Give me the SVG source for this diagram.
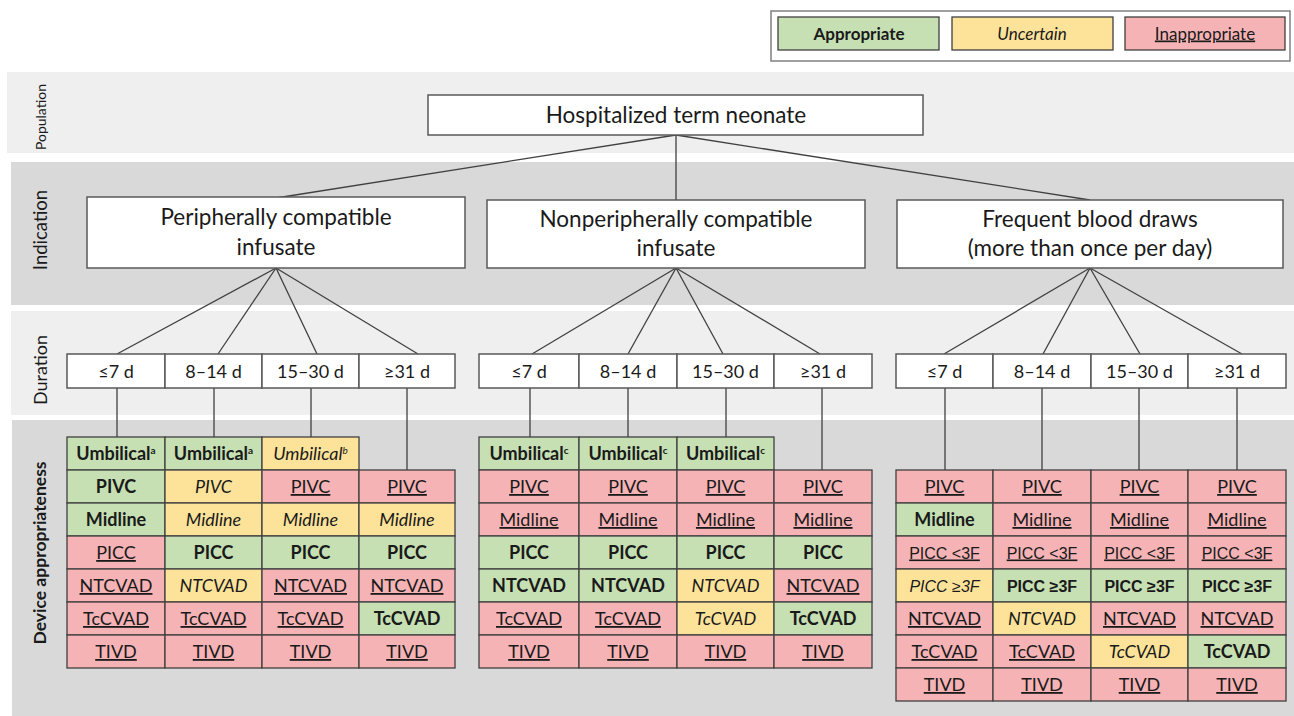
<svg xmlns="http://www.w3.org/2000/svg" width="1294" height="716" viewBox="0 0 1294 716">
<style>
text{font-family:Lato,"Open Sans","Liberation Sans",sans-serif;fill:#1a1a1a;text-anchor:middle}
.band1{fill:#efefef}
.band2{fill:#d9d9d9}
.box{fill:#fff;stroke:#595959;stroke-width:1.5}
.g{fill:#c6e0b4;stroke:#404040;stroke-width:1.3}
.y{fill:#fde39a;stroke:#404040;stroke-width:1.3}
.r{fill:#f5b3b5;stroke:#404040;stroke-width:1.3}
.c{font-size:18px}
.tg{font-weight:bold}
.ty{font-style:italic}
.tr{text-decoration:underline}
.ar{font-family:"Liberation Sans",Arial,sans-serif;font-size:16px}
.node{font-size:22.5px}
.dur{font-size:18px}
.lg{font-size:17px}
.conn line{stroke:#404040;stroke-width:1.3}
</style>
<rect width="1294" height="716" fill="#fff"/>
<!-- bands -->
<g id="bands">
<rect class="band1" x="7" y="72" width="1287" height="81"/>
<rect class="band2" x="11" y="162" width="1283" height="143"/>
<rect class="band1" x="11" y="311" width="1283" height="104"/>
<rect class="band2" x="12" y="420" width="1282" height="296"/>
<text x="0" y="0" font-size="14" transform="translate(46,117) rotate(-90)">Population</text>
<text x="0" y="0" font-size="18.5" transform="translate(47,230) rotate(-90)">Indication</text>
<text x="0" y="0" font-size="18" transform="translate(47,370) rotate(-90)">Duration</text>
<text x="0" y="0" font-size="17.5" font-weight="bold" transform="translate(46,553) rotate(-90)">Device appropriateness</text>
</g>
<!-- legend -->
<g id="legend">
<rect x="771" y="11" width="519" height="50" fill="#fff" stroke="#808080" stroke-width="1.5"/>
<rect class="g" x="778" y="17" width="161" height="33"/>
<rect class="y" x="952" y="17" width="161" height="33"/>
<rect class="r" x="1125" y="17" width="160" height="33"/>
<text class="lg tg" x="859" y="39.5">Appropriate</text>
<text class="lg ty" x="1032" y="39.5">Uncertain</text>
<text class="lg tr" x="1205" y="39.5">Inappropriate</text>
</g>
<!-- connectors -->
<g id="connectors" class="conn">
<line x1="676" y1="135" x2="276" y2="198"/>
<line x1="676" y1="135" x2="676" y2="200"/>
<line x1="676" y1="135" x2="1090" y2="200"/>
<line x1="276" y1="268" x2="117" y2="354"/>
<line x1="276" y1="268" x2="218" y2="354"/>
<line x1="276" y1="268" x2="317" y2="354"/>
<line x1="276" y1="268" x2="418" y2="354"/>
<line x1="676" y1="268" x2="532" y2="354"/>
<line x1="676" y1="268" x2="628" y2="354"/>
<line x1="676" y1="268" x2="723" y2="354"/>
<line x1="676" y1="268" x2="820" y2="354"/>
<line x1="1090" y1="268" x2="944" y2="354"/>
<line x1="1090" y1="268" x2="1043" y2="354"/>
<line x1="1090" y1="268" x2="1140" y2="354"/>
<line x1="1090" y1="268" x2="1242" y2="354"/>
<line x1="117" y1="388" x2="117" y2="437"/>
<line x1="214" y1="388" x2="214" y2="437"/>
<line x1="311" y1="388" x2="311" y2="437"/>
<line x1="407" y1="388" x2="407" y2="470"/>
<line x1="530" y1="388" x2="530" y2="437"/>
<line x1="628" y1="388" x2="628" y2="437"/>
<line x1="726" y1="388" x2="726" y2="437"/>
<line x1="822" y1="388" x2="822" y2="470"/>
<line x1="945" y1="388" x2="945" y2="470"/>
<line x1="1042" y1="388" x2="1042" y2="470"/>
<line x1="1139" y1="388" x2="1139" y2="470"/>
<line x1="1237" y1="388" x2="1237" y2="470"/>
</g>
<!-- nodes -->
<g id="node-population">
<rect class="box" x="428" y="95" width="495" height="40"/>
<text class="node" x="676" y="123">Hospitalized term neonate</text>
</g>
<g id="node-peripheral">
<rect class="box" x="87" y="197" width="378" height="71"/>
<text class="node" x="276" y="225">Peripherally compatible</text>
<text class="node" x="276" y="255">infusate</text>
</g>
<g id="node-nonperipheral">
<rect class="box" x="487" y="200" width="378" height="68"/>
<text class="node" x="676" y="227">Nonperipherally compatible</text>
<text class="node" x="676" y="256">infusate</text>
</g>
<g id="node-blood">
<rect class="box" x="897" y="200" width="386" height="68"/>
<text class="node" x="1090" y="227">Frequent blood draws</text>
<text class="node" x="1090" y="256">(more than once per day)</text>
</g>
<!-- duration rows -->
<g id="duration-1">
<rect class="box" x="67" y="354" width="98" height="34"/>
<rect class="box" x="165" y="354" width="97" height="34"/>
<rect class="box" x="262" y="354" width="97" height="34"/>
<rect class="box" x="359" y="354" width="96" height="34"/>
<text class="dur" x="116" y="377.5">≤7 d</text>
<text class="dur" x="213.5" y="377.5">8–14 d</text>
<text class="dur" x="310.5" y="377.5">15–30 d</text>
<text class="dur" x="407" y="377.5">≥31 d</text>
</g>
<g id="duration-2">
<rect class="box" x="479" y="354" width="100" height="34"/>
<rect class="box" x="579" y="354" width="98" height="34"/>
<rect class="box" x="677" y="354" width="97" height="34"/>
<rect class="box" x="774" y="354" width="98" height="34"/>
<text class="dur" x="529" y="377.5">≤7 d</text>
<text class="dur" x="628" y="377.5">8–14 d</text>
<text class="dur" x="725.5" y="377.5">15–30 d</text>
<text class="dur" x="823" y="377.5">≥31 d</text>
</g>
<g id="duration-3">
<rect class="box" x="896" y="354" width="97" height="34"/>
<rect class="box" x="993" y="354" width="98" height="34"/>
<rect class="box" x="1091" y="354" width="97" height="34"/>
<rect class="box" x="1188" y="354" width="98" height="34"/>
<text class="dur" x="944.5" y="377.5">≤7 d</text>
<text class="dur" x="1042" y="377.5">8–14 d</text>
<text class="dur" x="1139.5" y="377.5">15–30 d</text>
<text class="dur" x="1237" y="377.5">≥31 d</text>
</g>
<!-- table 1 -->
<g id="table-1">
<rect class="g" x="67" y="437" width="98" height="33"/><rect class="g" x="165" y="437" width="97" height="33"/><rect class="y" x="262" y="437" width="97" height="33"/>
<rect class="g" x="67" y="470" width="98" height="33"/><rect class="y" x="165" y="470" width="97" height="33"/><rect class="r" x="262" y="470" width="97" height="33"/><rect class="r" x="359" y="470" width="96" height="33"/>
<rect class="g" x="67" y="503" width="98" height="33"/><rect class="y" x="165" y="503" width="97" height="33"/><rect class="y" x="262" y="503" width="97" height="33"/><rect class="y" x="359" y="503" width="96" height="33"/>
<rect class="r" x="67" y="536" width="98" height="33"/><rect class="g" x="165" y="536" width="97" height="33"/><rect class="g" x="262" y="536" width="97" height="33"/><rect class="g" x="359" y="536" width="96" height="33"/>
<rect class="r" x="67" y="569" width="98" height="33"/><rect class="y" x="165" y="569" width="97" height="33"/><rect class="r" x="262" y="569" width="97" height="33"/><rect class="r" x="359" y="569" width="96" height="33"/>
<rect class="r" x="67" y="602" width="98" height="33"/><rect class="r" x="165" y="602" width="97" height="33"/><rect class="r" x="262" y="602" width="97" height="33"/><rect class="g" x="359" y="602" width="96" height="33"/>
<rect class="r" x="67" y="635" width="98" height="33"/><rect class="r" x="165" y="635" width="97" height="33"/><rect class="r" x="262" y="635" width="97" height="33"/><rect class="r" x="359" y="635" width="96" height="33"/>
<text class="c tg" x="116" y="460">Umbilical<tspan font-size="10" dy="-6">a</tspan></text>
<text class="c tg" x="213.5" y="460">Umbilical<tspan font-size="10" dy="-6">a</tspan></text>
<text class="c ty" x="310.5" y="460">Umbilical<tspan font-size="10" dy="-6">b</tspan></text>
<text class="c tg" x="116" y="493">PIVC</text><text class="c ty" x="213.5" y="493">PIVC</text><text class="c tr" x="310.5" y="493">PIVC</text><text class="c tr" x="407" y="493">PIVC</text>
<text class="c tg" x="116" y="526">Midline</text><text class="c ty" x="213.5" y="526">Midline</text><text class="c ty" x="310.5" y="526">Midline</text><text class="c ty" x="407" y="526">Midline</text>
<text class="c tr" x="116" y="559">PICC</text><text class="c tg" x="213.5" y="559">PICC</text><text class="c tg" x="310.5" y="559">PICC</text><text class="c tg" x="407" y="559">PICC</text>
<text class="c tr" x="116" y="592">NTCVAD</text><text class="c ty" x="213.5" y="592">NTCVAD</text><text class="c tr" x="310.5" y="592">NTCVAD</text><text class="c tr" x="407" y="592">NTCVAD</text>
<text class="c tr" x="116" y="625">TcCVAD</text><text class="c tr" x="213.5" y="625">TcCVAD</text><text class="c tr" x="310.5" y="625">TcCVAD</text><text class="c tg" x="407" y="625">TcCVAD</text>
<text class="c tr" x="116" y="658">TIVD</text><text class="c tr" x="213.5" y="658">TIVD</text><text class="c tr" x="310.5" y="658">TIVD</text><text class="c tr" x="407" y="658">TIVD</text>
</g>
<!-- table 2 -->
<g id="table-2">
<rect class="g" x="479" y="437" width="100" height="33"/><rect class="g" x="579" y="437" width="98" height="33"/><rect class="g" x="677" y="437" width="97" height="33"/>
<rect class="r" x="479" y="470" width="100" height="33"/><rect class="r" x="579" y="470" width="98" height="33"/><rect class="r" x="677" y="470" width="97" height="33"/><rect class="r" x="774" y="470" width="98" height="33"/>
<rect class="r" x="479" y="503" width="100" height="33"/><rect class="r" x="579" y="503" width="98" height="33"/><rect class="r" x="677" y="503" width="97" height="33"/><rect class="r" x="774" y="503" width="98" height="33"/>
<rect class="g" x="479" y="536" width="100" height="33"/><rect class="g" x="579" y="536" width="98" height="33"/><rect class="g" x="677" y="536" width="97" height="33"/><rect class="g" x="774" y="536" width="98" height="33"/>
<rect class="g" x="479" y="569" width="100" height="33"/><rect class="g" x="579" y="569" width="98" height="33"/><rect class="y" x="677" y="569" width="97" height="33"/><rect class="r" x="774" y="569" width="98" height="33"/>
<rect class="r" x="479" y="602" width="100" height="33"/><rect class="r" x="579" y="602" width="98" height="33"/><rect class="y" x="677" y="602" width="97" height="33"/><rect class="g" x="774" y="602" width="98" height="33"/>
<rect class="r" x="479" y="635" width="100" height="33"/><rect class="r" x="579" y="635" width="98" height="33"/><rect class="r" x="677" y="635" width="97" height="33"/><rect class="r" x="774" y="635" width="98" height="33"/>
<text class="c tg" x="529" y="460">Umbilical<tspan font-size="10" dy="-6">c</tspan></text>
<text class="c tg" x="628" y="460">Umbilical<tspan font-size="10" dy="-6">c</tspan></text>
<text class="c tg" x="725.5" y="460">Umbilical<tspan font-size="10" dy="-6">c</tspan></text>
<text class="c tr" x="529" y="493">PIVC</text><text class="c tr" x="628" y="493">PIVC</text><text class="c tr" x="725.5" y="493">PIVC</text><text class="c tr" x="823" y="493">PIVC</text>
<text class="c tr" x="529" y="526">Midline</text><text class="c tr" x="628" y="526">Midline</text><text class="c tr" x="725.5" y="526">Midline</text><text class="c tr" x="823" y="526">Midline</text>
<text class="c tg" x="529" y="559">PICC</text><text class="c tg" x="628" y="559">PICC</text><text class="c tg" x="725.5" y="559">PICC</text><text class="c tg" x="823" y="559">PICC</text>
<text class="c tg" x="529" y="592">NTCVAD</text><text class="c tg" x="628" y="592">NTCVAD</text><text class="c ty" x="725.5" y="592">NTCVAD</text><text class="c tr" x="823" y="592">NTCVAD</text>
<text class="c tr" x="529" y="625">TcCVAD</text><text class="c tr" x="628" y="625">TcCVAD</text><text class="c ty" x="725.5" y="625">TcCVAD</text><text class="c tg" x="823" y="625">TcCVAD</text>
<text class="c tr" x="529" y="658">TIVD</text><text class="c tr" x="628" y="658">TIVD</text><text class="c tr" x="725.5" y="658">TIVD</text><text class="c tr" x="823" y="658">TIVD</text>
</g>
<!-- table 3 -->
<g id="table-3">
<rect class="r" x="896" y="470" width="97" height="33"/><rect class="r" x="993" y="470" width="98" height="33"/><rect class="r" x="1091" y="470" width="97" height="33"/><rect class="r" x="1188" y="470" width="98" height="33"/>
<rect class="g" x="896" y="503" width="97" height="33"/><rect class="r" x="993" y="503" width="98" height="33"/><rect class="r" x="1091" y="503" width="97" height="33"/><rect class="r" x="1188" y="503" width="98" height="33"/>
<rect class="r" x="896" y="536" width="97" height="33"/><rect class="r" x="993" y="536" width="98" height="33"/><rect class="r" x="1091" y="536" width="97" height="33"/><rect class="r" x="1188" y="536" width="98" height="33"/>
<rect class="y" x="896" y="569" width="97" height="33"/><rect class="g" x="993" y="569" width="98" height="33"/><rect class="g" x="1091" y="569" width="97" height="33"/><rect class="g" x="1188" y="569" width="98" height="33"/>
<rect class="r" x="896" y="602" width="97" height="33"/><rect class="y" x="993" y="602" width="98" height="33"/><rect class="r" x="1091" y="602" width="97" height="33"/><rect class="r" x="1188" y="602" width="98" height="33"/>
<rect class="r" x="896" y="635" width="97" height="33"/><rect class="r" x="993" y="635" width="98" height="33"/><rect class="y" x="1091" y="635" width="97" height="33"/><rect class="g" x="1188" y="635" width="98" height="33"/>
<rect class="r" x="896" y="668" width="97" height="33"/><rect class="r" x="993" y="668" width="98" height="33"/><rect class="r" x="1091" y="668" width="97" height="33"/><rect class="r" x="1188" y="668" width="98" height="33"/>
<text class="c tr" x="944.5" y="493">PIVC</text><text class="c tr" x="1042" y="493">PIVC</text><text class="c tr" x="1139.5" y="493">PIVC</text><text class="c tr" x="1237" y="493">PIVC</text>
<text class="c tg" x="944.5" y="526">Midline</text><text class="c tr" x="1042" y="526">Midline</text><text class="c tr" x="1139.5" y="526">Midline</text><text class="c tr" x="1237" y="526">Midline</text>
<text class="ar tr" x="944.5" y="558.5">PICC &lt;3F</text><text class="ar tr" x="1042" y="558.5">PICC &lt;3F</text><text class="ar tr" x="1139.5" y="558.5">PICC &lt;3F</text><text class="ar tr" x="1237" y="558.5">PICC &lt;3F</text>
<text class="ar ty" x="944.5" y="591.5">PICC ≥3F</text><text class="ar tg" x="1042" y="591.5">PICC ≥3F</text><text class="ar tg" x="1139.5" y="591.5">PICC ≥3F</text><text class="ar tg" x="1237" y="591.5">PICC ≥3F</text>
<text class="c tr" x="944.5" y="625">NTCVAD</text><text class="c ty" x="1042" y="625">NTCVAD</text><text class="c tr" x="1139.5" y="625">NTCVAD</text><text class="c tr" x="1237" y="625">NTCVAD</text>
<text class="c tr" x="944.5" y="658">TcCVAD</text><text class="c tr" x="1042" y="658">TcCVAD</text><text class="c ty" x="1139.5" y="658">TcCVAD</text><text class="c tg" x="1237" y="658">TcCVAD</text>
<text class="c tr" x="944.5" y="691">TIVD</text><text class="c tr" x="1042" y="691">TIVD</text><text class="c tr" x="1139.5" y="691">TIVD</text><text class="c tr" x="1237" y="691">TIVD</text>
</g>
</svg>
